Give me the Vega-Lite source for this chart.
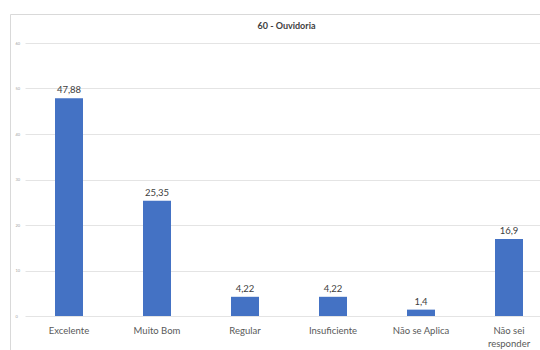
{
  "$schema": "https://vega.github.io/schema/vega-lite/v6.json",
  "autosize": {"type": "none"},
  "width": 543,
  "height": 346,
  "padding": {"left": 10, "top": 14, "right": 0, "bottom": 0},
  "background": "white",
  "config": {
    "locale": {"number": {"decimal": ",", "thousands": ".", "grouping": [3], "currency": ["", ""]}},
    "view": {"stroke": "#d9d9d9", "strokeWidth": 1},
    "font": "Lato"
  },
  "title": {"text": "60 - Ouvidoria", "fontSize": 9, "fontWeight": "bold", "color": "#404040", "offset": -17, "dx": 5, "font": "Lato"},
  "data": {
    "values": [
      {"categoria": "Excelente", "valor": 47.88},
      {"categoria": "Muito Bom", "valor": 25.35},
      {"categoria": "Regular", "valor": 4.22},
      {"categoria": "Insuficiente", "valor": 4.22},
      {"categoria": "Não se Aplica", "valor": 1.4},
      {"categoria": "Não sei responder", "valor": 16.9}
    ]
  },
  "encoding": {
    "x": {
      "field": "categoria", "type": "nominal", "sort": null,
      "scale": {"range": [15, 543], "paddingInner": 0, "paddingOuter": 0},
      "axis": {
        "title": null, "labelAngle": 0, "ticks": false, "domain": false, "offset": -44,
        "labelFontSize": 9.5, "labelColor": "#595959", "labelPadding": 9,
        "labelExpr": "datum.label == 'Não sei responder' ? ['Não sei', 'responder'] : datum.label",
        "labelLineHeight": 13
      }
    },
    "y": {
      "field": "valor", "type": "quantitative",
      "scale": {"domain": [0, 60], "range": [302, 29]},
      "axis": {
        "title": null, "values": [0, 10, 20, 30, 40, 50, 60], "domain": false, "ticks": false,
        "labelFontSize": 4, "labelColor": "#a0a0a0", "labelPadding": -5, "labelAlign": "left",
        "gridColor": "#e4e4e4", "gridWidth": 1
      }
    }
  },
  "layer": [
    {"mark": {"type": "bar", "width": 28, "color": "#4472C4"}},
    {
      "mark": {"type": "text", "dy": -8, "fontSize": 9.5, "color": "#404040", "font": "Lato"},
      "encoding": {"text": {"field": "valor", "type": "quantitative", "format": ",.2~f"}}
    }
  ]
}
